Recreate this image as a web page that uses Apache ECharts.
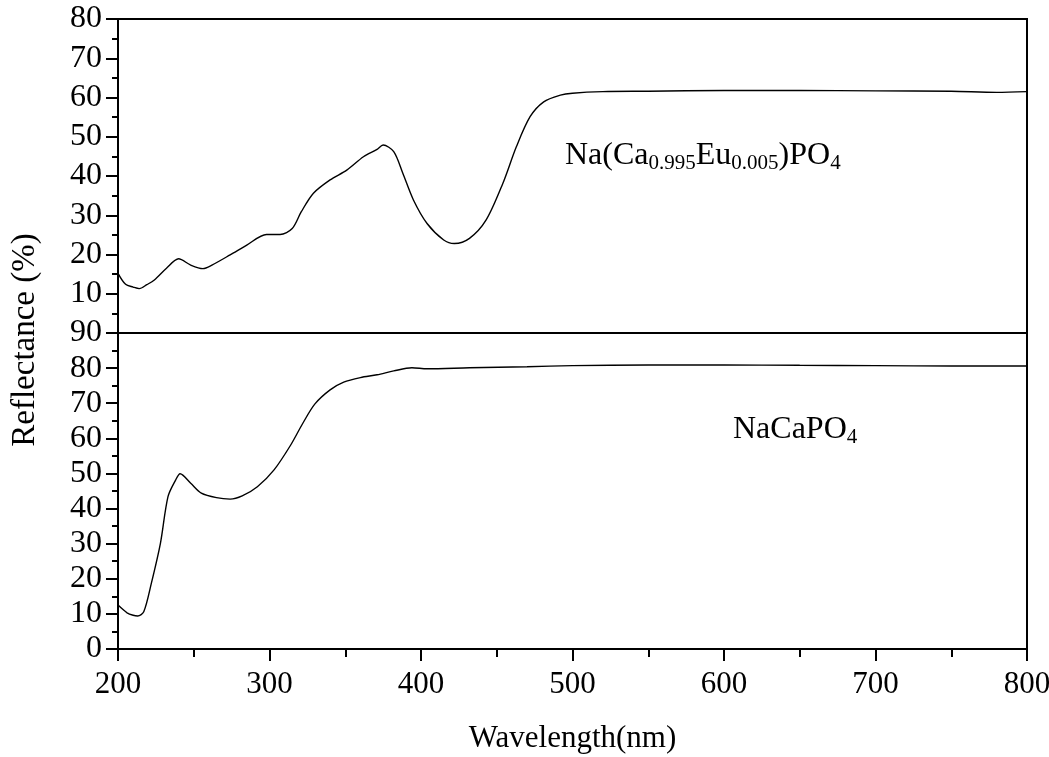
<!DOCTYPE html>
<html>
<head>
<meta charset="utf-8">
<script src="https://cdn.jsdelivr.net/npm/echarts@6/dist/echarts.min.js"></script>
<style>
html,body{margin:0;padding:0;background:#fff;}
#chart{width:1049px;height:757px;}
</style>
</head>
<body>
<div id="chart"></div>
<script>
// Top panel: Na(Ca0.995Eu0.005)PO4
var wlEu = [200, 205, 210, 214, 219, 224, 232, 240, 248, 256, 262, 274, 285, 298, 307, 315, 321, 329, 340, 351, 362, 371, 375, 382, 388, 395, 404, 415, 422, 432, 443, 454, 463, 472, 481, 492, 500, 520, 550, 600, 650, 700, 750, 780, 800];
var rEu  = [15.2, 12.4, 11.7, 11.3, 12.3, 13.5, 16.5, 18.9, 17.3, 16.4, 17.3, 19.9, 22.4, 25.1, 25.1, 26.6, 30.9, 35.6, 39.0, 41.5, 44.9, 46.8, 47.9, 46.2, 40.7, 33.9, 27.9, 23.7, 22.8, 24.1, 28.8, 38.1, 47.5, 55.1, 58.9, 60.6, 61.1, 61.5, 61.6, 61.8, 61.8, 61.7, 61.6, 61.3, 61.5];
// Bottom panel: NaCaPO4
var wlCa = [200, 206, 210, 213, 217, 222, 228, 233, 238, 241, 248, 255, 265, 274, 282, 292, 303, 314, 322, 330, 340, 349, 360, 371, 382, 394, 404, 432, 470, 500, 550, 600, 650, 700, 750, 800];
var rCa  = [12.5, 10.3, 9.6, 9.4, 10.6, 18.7, 30.1, 43.4, 48.1, 49.9, 47.2, 44.4, 43.1, 42.7, 43.6, 46.2, 51.0, 58.1, 64.3, 69.8, 73.8, 76.0, 77.3, 78.1, 79.2, 80.1, 79.8, 80.1, 80.4, 80.7, 80.9, 80.9, 80.8, 80.7, 80.6, 80.6];
var xTicks = [200, 300, 400, 500, 600, 700, 800];
var labelEu = 'Na(Ca{s|0.995}Eu{s|0.005})PO{s|4}';
var labelCa = 'NaCaPO{s|4}';
var xName = 'Wavelength(nm)';
var yName = 'Reflectance (%)';

function pairs(xs, ys) { return xs.map(function (x, i) { return [x, ys[i]]; }); }

var FONT = 'Liberation Serif';
var chart = echarts.init(document.getElementById('chart'));
var lineStyleAxis = { color: '#000', width: 2 };

var option = {
  backgroundColor: '#fff',
  animation: false,
  grid: [
    { left: 118, right: 22, top: 19, height: 314, show: true, borderColor: '#000', borderWidth: 2, outerBoundsMode: 'none' },
    { left: 118, right: 22, top: 333, height: 316, show: true, borderColor: '#000', borderWidth: 2, outerBoundsMode: 'none' }
  ],
  xAxis: [
    { type: 'value', gridIndex: 0, min: xTicks[0], max: xTicks[xTicks.length - 1], interval: 100,
      axisLine: { show: true, onZero: false, lineStyle: lineStyleAxis },
      axisTick: { show: false }, axisLabel: { show: false }, splitLine: { show: false } },
    { type: 'value', gridIndex: 1, min: xTicks[0], max: xTicks[xTicks.length - 1], interval: 100,
      name: xName, nameLocation: 'middle', nameGap: 74,
      nameTextStyle: { fontFamily: FONT, fontSize: 31, color: '#000' },
      axisLine: { show: true, onZero: false, lineStyle: lineStyleAxis },
      axisTick: { show: true, inside: false, length: 12, lineStyle: { color: '#000', width: 2 } },
      minorTick: { show: true, splitNumber: 2, length: 8, lineStyle: { color: '#000', width: 2 } },
      axisLabel: { fontFamily: FONT, fontSize: 31, color: '#000', margin: 20 },
      splitLine: { show: false } }
  ],
  yAxis: [
    { type: 'value', gridIndex: 0, min: 0, max: 80, interval: 10,
      axisLine: { show: true, onZero: false, lineStyle: lineStyleAxis },
      axisTick: { show: true, length: 12, lineStyle: { color: '#000', width: 2 } },
      minorTick: { show: true, splitNumber: 2, length: 6, lineStyle: { color: '#000', width: 2 } },
      axisLabel: { fontFamily: FONT, fontSize: 32, color: '#000', margin: 16,
        formatter: function (v) { return v === 0 ? '' : String(v); } },
      splitLine: { show: false } },
    { type: 'value', gridIndex: 1, min: 0, max: 90, interval: 10,
      axisLine: { show: true, onZero: false, lineStyle: lineStyleAxis },
      axisTick: { show: true, length: 12, lineStyle: { color: '#000', width: 2 } },
      minorTick: { show: true, splitNumber: 2, length: 6, lineStyle: { color: '#000', width: 2 } },
      axisLabel: { fontFamily: FONT, fontSize: 32, color: '#000', margin: 16 },
      splitLine: { show: false } }
  ],
  series: [
    { type: 'line', xAxisIndex: 0, yAxisIndex: 0, data: pairs(wlEu, rEu), smooth: 0.3,
      symbol: 'none', lineStyle: { color: '#000', width: 1.4 } },
    { type: 'line', xAxisIndex: 1, yAxisIndex: 1, data: pairs(wlCa, rCa), smooth: 0.3,
      symbol: 'none', lineStyle: { color: '#000', width: 1.4 } }
  ],
  graphic: [
    { type: 'text', x: 25, y: 340, rotation: Math.PI / 2,
      style: { text: yName, fontFamily: FONT, fontSize: 33, fill: '#000', align: 'center', verticalAlign: 'middle' } },
    { type: 'text', x: 565, y: 156,
      style: { text: labelEu, fontFamily: FONT, fontSize: 32, fill: '#000', align: 'left', verticalAlign: 'middle',
        rich: { s: { fontFamily: FONT, fontSize: 21, fill: '#000', padding: [15, 0, 0, 0] } } } },
    { type: 'text', x: 733, y: 430,
      style: { text: labelCa, fontFamily: FONT, fontSize: 32, fill: '#000', align: 'left', verticalAlign: 'middle',
        rich: { s: { fontFamily: FONT, fontSize: 21, fill: '#000', padding: [15, 0, 0, 0] } } } }
  ]
};
chart.setOption(option);
</script>
</body>
</html>
